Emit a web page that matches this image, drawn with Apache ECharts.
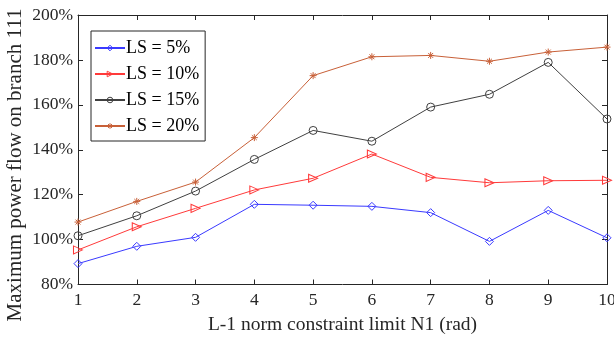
<!DOCTYPE html>
<html><head><meta charset="utf-8">
<script src="https://cdn.jsdelivr.net/npm/echarts@6/dist/echarts.min.js"></script>
<style>html,body{margin:0;padding:0;background:#fff}#c{width:614px;height:337px}</style>
</head><body><div id="c"></div>
<script>
const categories = [1,2,3,4,5,6,7,8,9,10];
const yTicks = [80,100,120,140,160,180,200];
const seriesNames = ['LS = 5%','LS = 10%','LS = 15%','LS = 20%'];
const ls5  = [89.3, 97.0, 101.0, 115.7, 115.3, 114.8, 112.0, 99.2, 113.0, 100.8];
const ls10 = [95.4, 105.7, 113.9, 122.1, 127.3, 138.1, 127.7, 125.3, 126.2, 126.4];
const ls15 = [101.7, 110.6, 121.6, 135.7, 148.6, 143.8, 159.0, 164.7, 178.9, 153.7];
const ls20 = [107.8, 117.0, 125.6, 145.4, 173.0, 181.4, 182.0, 179.4, 183.5, 185.7];

const font = '"Liberation Serif","DejaVu Serif",serif';
const colors = ['#3a3aff','#ff3a3a','#404040','#c86038'];
const symbols = ['diamond','triangle','circle','path://M0,-10L0,10M-10,0L10,0M-7,-7L7,7M-7,7L7,-7'];
const rot = [0,-90,0,0];
const dataArr = [ls5, ls10, ls15, ls20];

const chart = echarts.init(document.getElementById('c'));
const axisLine = {show:true, lineStyle:{color:'#262626', width:1}};
const tick = {show:true, inside:true, length:5, lineStyle:{color:'#262626'}};
chart.setOption({
  animation:false,
  backgroundColor:'#fff',
  grid:{left:78, right:7, top:15, bottom:52.5, containLabel:false, outerBoundsMode:'none'},
  legend:{
    orient:'vertical', left:91, top:31,
    itemWidth:30, itemHeight:7, itemGap:8,
    padding:[8,6,6,3],
    borderColor:'#262626', borderWidth:1, backgroundColor:'#fff',
    itemStyle:{color:'rgba(255,255,255,0)', borderColor:'inherit', borderWidth:1},
    textStyle:{fontFamily:font, fontSize:18, color:'#000', padding:[0,0,0,-4], lineHeight:18},
    data:seriesNames.map((n,i)=>({name:n, itemStyle:{color:'rgba(255,255,255,0)', borderColor:colors[i], borderWidth:1}}))
  },
  graphic:[{
    type:'text', x:15, y:165, rotation:Math.PI/2,
    style:{text:'Maximum power flow on branch 111', font:'21px "Liberation Serif", serif', fill:'#262626',
      textAlign:'center', textVerticalAlign:'middle'}
  }],
  xAxis:[{
    type:'value', min:1, max:10, interval:1,
    name:'L-1 norm constraint limit N1 (rad)', nameLocation:'middle', nameGap:23,
    nameTextStyle:{fontFamily:font, fontSize:19.5, color:'#262626'},
    axisLine:axisLine, axisTick:tick,
    axisLabel:{fontFamily:font, fontSize:17.5, color:'#262626', margin:7},
    splitLine:{show:false}
  },{
    type:'value', min:1, max:10, interval:1, position:'top',
    axisLine:axisLine, axisTick:tick,
    axisLabel:{show:false}, splitLine:{show:false}
  }],
  yAxis:[{
    type:'value', min:80, max:200, interval:20,
    axisLine:axisLine, axisTick:tick,
    axisLabel:{fontFamily:font, fontSize:17.5, color:'#262626', margin:5, formatter:v=>v+'%'},
    splitLine:{show:false}
  },{
    type:'value', min:80, max:200, interval:20, position:'right',
    axisLine:axisLine, axisTick:tick,
    axisLabel:{show:false}, splitLine:{show:false}
  }],
  series: seriesNames.map((n,i)=>({
    name:n, type:'line',
    data: categories.map((x,j)=>[x, dataArr[i][j]]),
    symbol:symbols[i], symbolSize: i===3?7:(i===1?[8,9]:8), symbolRotate:rot[i],
    showAllSymbol:true,
    lineStyle:{color:colors[i], width:1},
    itemStyle:{color: 'rgba(255,255,255,0)', borderColor:colors[i], borderWidth:1},
    emphasis:{disabled:true}
  }))
});
</script></body></html>
